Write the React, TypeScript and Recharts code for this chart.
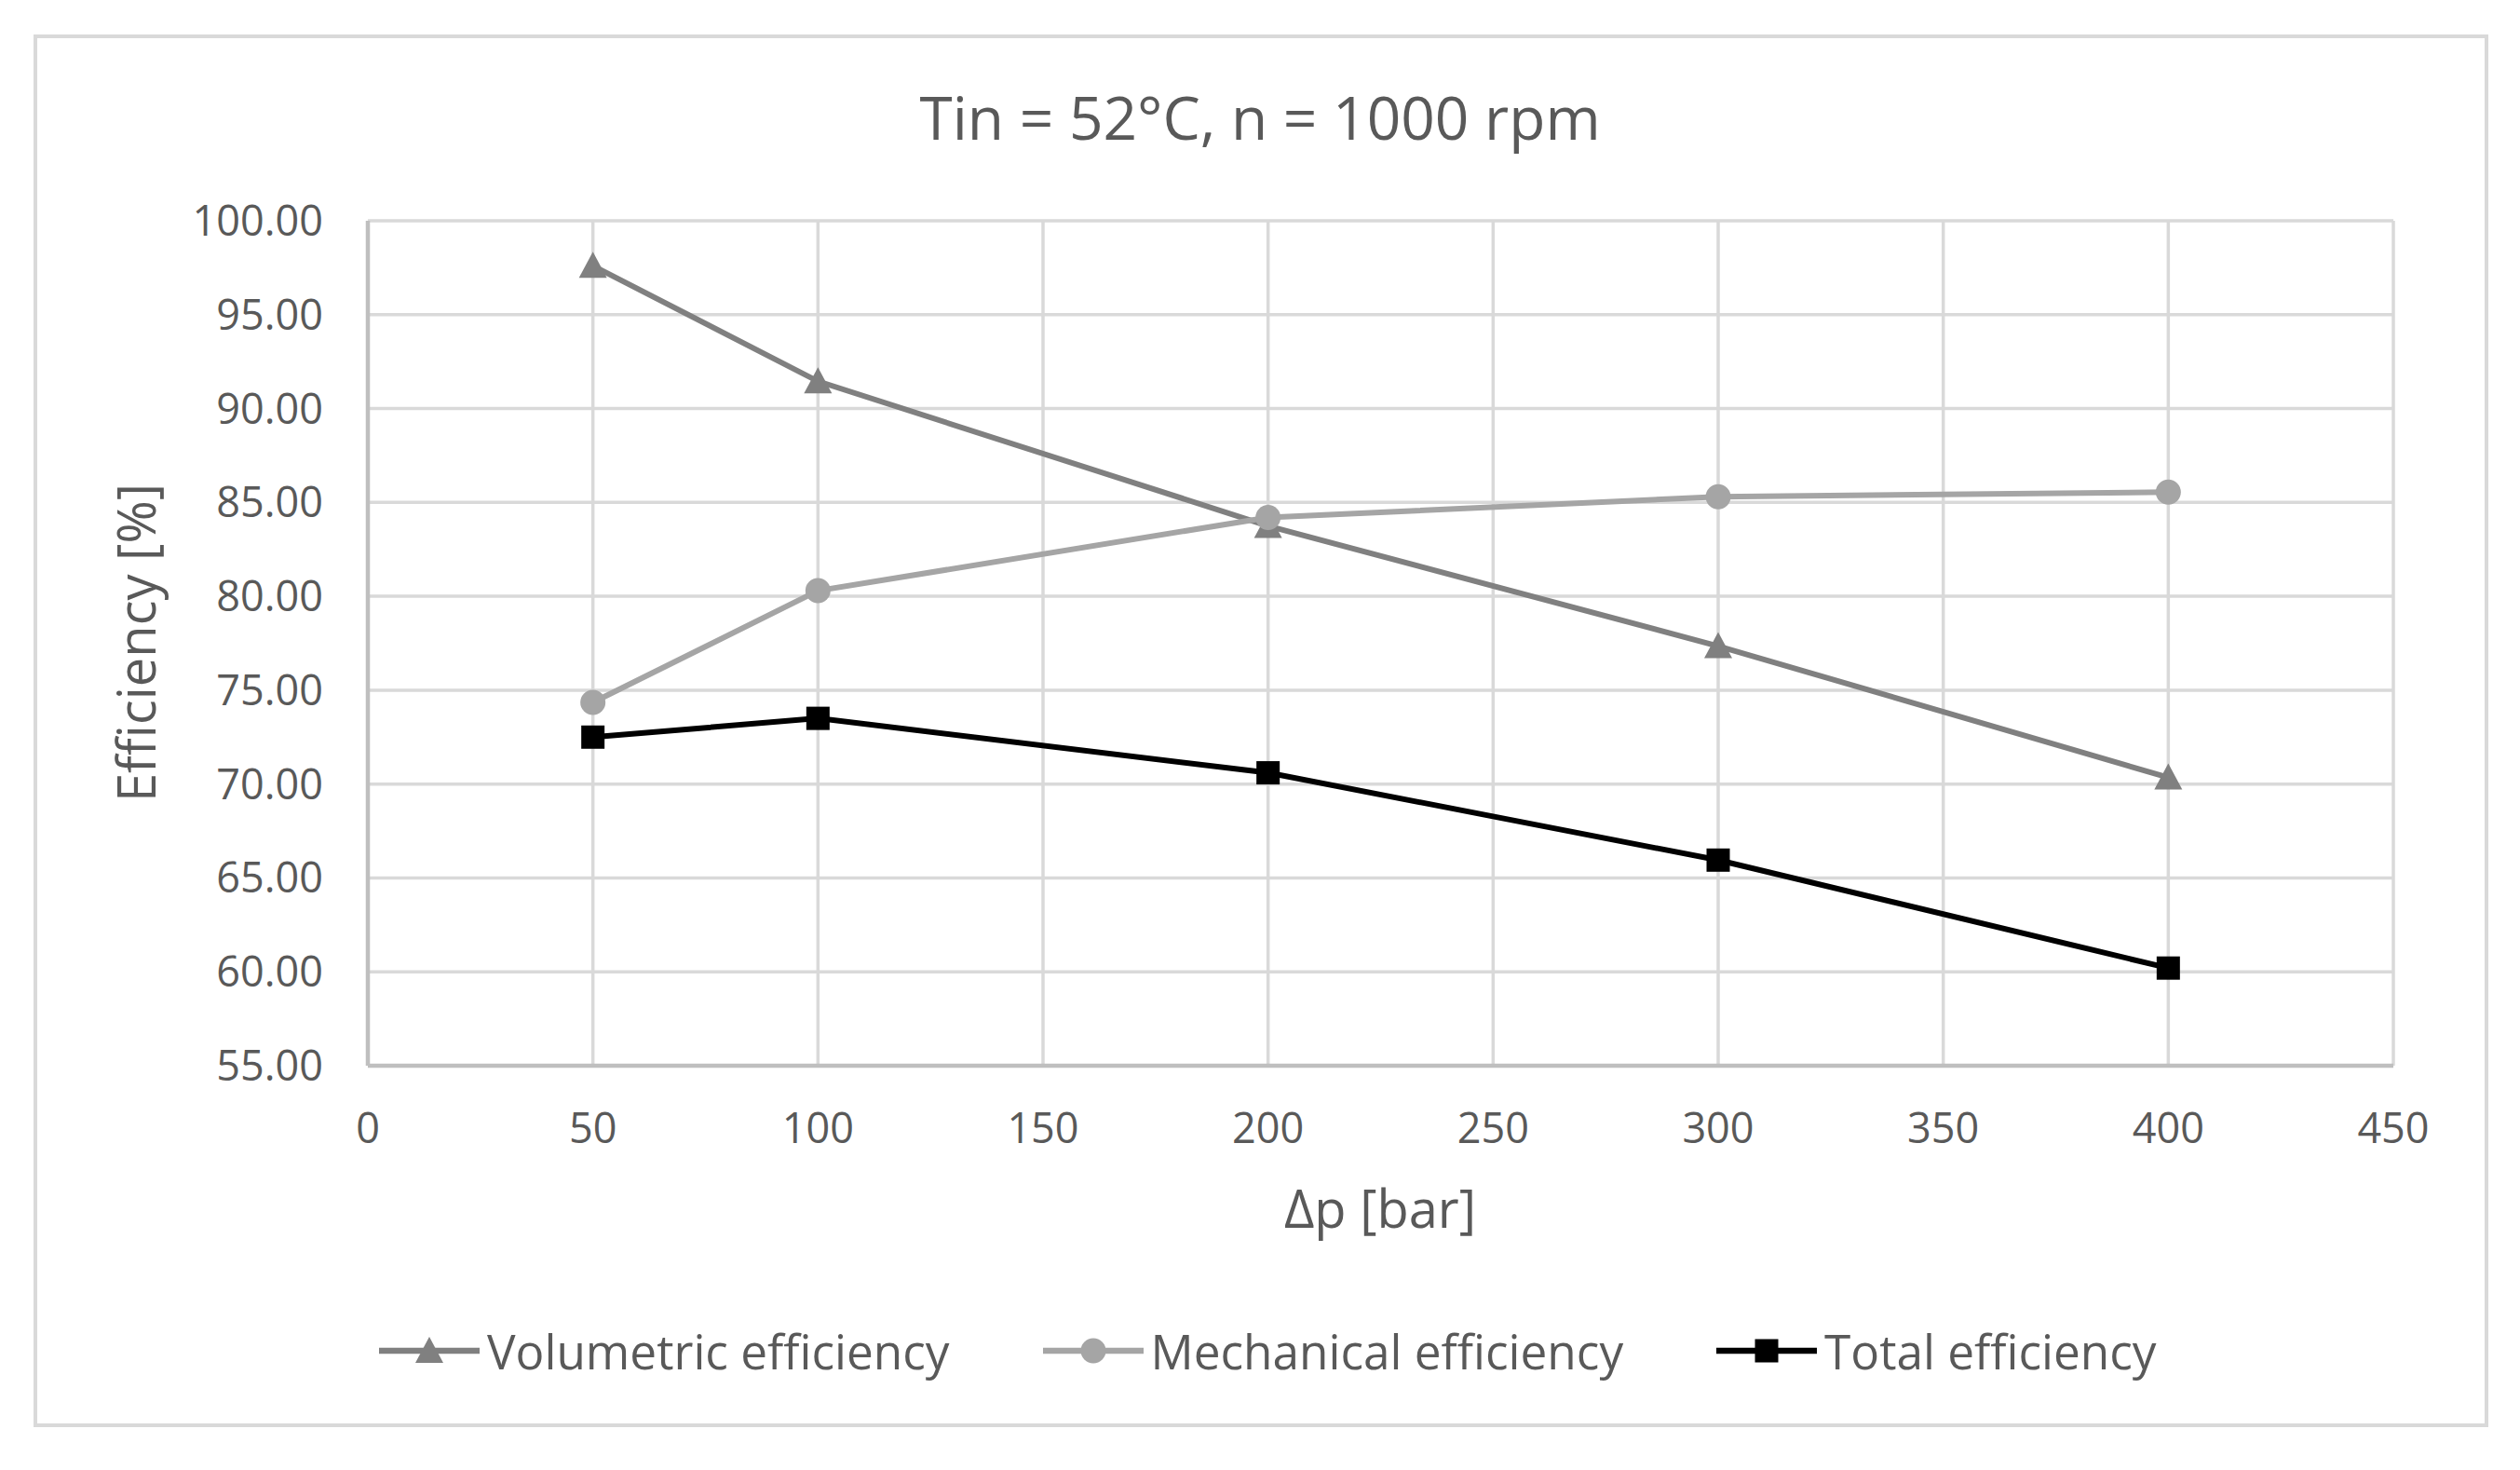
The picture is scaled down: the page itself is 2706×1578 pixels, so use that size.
import React from 'react';
import { LineChart, Line, XAxis, YAxis, CartesianGrid } from 'recharts';

// ---- data ----
const pressureBar = [50, 100, 200, 300, 400];
const volumetricEff = [97.6, 91.45, 83.75, 77.35, 70.35];
const mechanicalEff = [74.35, 80.3, 84.2, 85.3, 85.55];
const totalEff = [72.5, 73.5, 70.6, 65.95, 60.2];

const xTicks = [0, 50, 100, 150, 200, 250, 300, 350, 400, 450];
const yTicks = [55, 60, 65, 70, 75, 80, 85, 90, 95, 100];

const seriesNames = ['Volumetric efficiency', 'Mechanical efficiency', 'Total efficiency'];
const chartTitle = 'Tin = 52°C, n = 1000 rpm';
const xTitle = 'Δp [bar]';
const yTitle = 'Efficiency [%]';

const data = pressureBar.map((p, i) => ({
  p,
  vol: volumetricEff[i],
  mech: mechanicalEff[i],
  total: totalEff[i],
}));

const FONT = '"Open Sans", sans-serif';
const TEXT = '#595959';
const VOL_C = '#808080';
const MECH_C = '#A5A5A5';
const TOT_C = '#000000';

type MP = { cx: number; cy: number; fill: string };
const TriangleM = ({ cx, cy, fill }: MP) => (
  <path d={`M${cx},${cy - 15} L${cx + 15},${cy + 13} L${cx - 15},${cy + 13} Z`} fill={fill} />
);
const CircleM = ({ cx, cy, fill }: MP) => <circle cx={cx} cy={cy} r={13.5} fill={fill} />;
const SquareM = ({ cx, cy, fill }: MP) => (
  <rect x={cx - 12.5} y={cy - 12.5} width={25} height={25} fill={fill} />
);

const markers = [TriangleM, CircleM, SquareM];
const colors = [VOL_C, MECH_C, TOT_C];

const mkDot = (M: any, fill: string) => (p: any) =>
  <M key={`d-${p.index}`} cx={p.cx} cy={p.cy} fill={fill} />;

const LegendIcon = ({ i }: { i: number }) => {
  const M = markers[i];
  return (
    <svg width={108} height={34} style={{ display: 'block' }}>
      <line x1={0} y1={17} x2={108} y2={17} stroke={colors[i]} strokeWidth={6.5} />
      <M cx={54} cy={17} fill={colors[i]} />
    </svg>
  );
};

export default function App() {
  return (
    <div
      style={{
        position: 'absolute',
        left: 0,
        top: 0,
        width: 2706,
        height: 1578,
        background: '#fff',
        overflow: 'hidden',
      }}
    >
      <div
        style={{
          position: 'absolute',
          left: 36,
          top: 37,
          width: 2636,
          height: 1495,
          border: '4px solid #D9D9D9',
          boxSizing: 'border-box',
        }}
      />
      <div style={{ position: 'absolute', left: 0, top: 0 }}>
        <LineChart
          width={2706}
          height={1578}
          data={data}
          margin={{ top: 237, right: 136, left: 0, bottom: 0 }}
        >
          <CartesianGrid stroke="#D9D9D9" strokeWidth={3.5} verticalValues={xTicks} horizontalValues={yTicks} />
          <XAxis
            dataKey="p"
            type="number"
            domain={[0, 450]}
            ticks={xTicks}
            height={434}
            tickLine={false}
            tickSize={0}
            tickMargin={51}
            axisLine={{ stroke: '#BFBFBF', strokeWidth: 4.5 }}
            tick={{ fontSize: 45, fill: TEXT, fontFamily: FONT }}
            interval={0}
          />
          <YAxis
            type="number"
            domain={[55, 100]}
            ticks={yTicks}
            width={395}
            tickLine={false}
            tickSize={0}
            tickMargin={48}
            axisLine={{ stroke: '#BFBFBF', strokeWidth: 4.5 }}
            tick={{ fontSize: 45, fill: TEXT, fontFamily: FONT }}
            tickFormatter={(v: number) => v.toFixed(2)}
            interval={0}
          />
          <Line
            dataKey="vol"
            name={seriesNames[0]}
            stroke={VOL_C}
            strokeWidth={6}
            dot={mkDot(TriangleM, VOL_C)}
            isAnimationActive={false}
          />
          <Line
            dataKey="mech"
            name={seriesNames[1]}
            stroke={MECH_C}
            strokeWidth={6}
            dot={mkDot(CircleM, MECH_C)}
            isAnimationActive={false}
          />
          <Line
            dataKey="total"
            name={seriesNames[2]}
            stroke={TOT_C}
            strokeWidth={6}
            dot={mkDot(SquareM, TOT_C)}
            isAnimationActive={false}
          />
        </LineChart>
      </div>
      <svg
        width={2706}
        height={1578}
        style={{ position: 'absolute', left: 0, top: 0, pointerEvents: 'none' }}
      >
        <text x={1353} y={150} textAnchor="middle" fontSize={64} fill={TEXT} fontFamily={FONT}>
          {chartTitle}
        </text>
        <text x={1482} y={1318} textAnchor="middle" fontSize={56} fill={TEXT} fontFamily={FONT}>
          {xTitle}
        </text>
        <text
          transform="translate(167,690) rotate(-90)"
          textAnchor="middle"
          fontSize={56}
          fill={TEXT}
          fontFamily={FONT}
        >
          {yTitle}
        </text>
      </svg>
      <div
        style={{
          position: 'absolute',
          left: 407,
          top: 1424,
          display: 'flex',
          alignItems: 'center',
          gap: 100,
          fontFamily: FONT,
          fontSize: 51.3,
          lineHeight: '52px',
          color: TEXT,
          whiteSpace: 'nowrap',
        }}
      >
        {seriesNames.map((n, i) => (
          <div key={n} style={{ display: 'flex', alignItems: 'center', gap: 8 }}>
            <LegendIcon i={i} />
            <span>{n}</span>
          </div>
        ))}
      </div>
    </div>
  );
}
